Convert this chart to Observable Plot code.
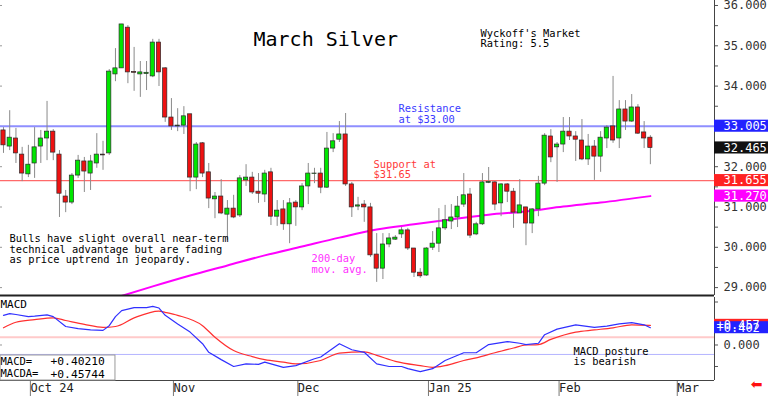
<!DOCTYPE html>
<html><head><meta charset="utf-8">
<script src="https://cdn.jsdelivr.net/npm/d3@7"></script>
<script src="https://cdn.jsdelivr.net/npm/@observablehq/plot@0.6"></script>
<style>
html,body{margin:0;padding:0;background:#fff;}
#chart{position:relative;width:768px;height:396px;overflow:hidden;background:#fff;}
#chart svg{display:block;}
</style></head><body><div id="chart"></div>
<script>
// ---- Daily OHLC (trading-day index 0..104) ----
const openP = [32.90,32.50,32.70,32.30,31.81,32.08,32.50,32.70,32.87,32.30,
31.26,31.11,31.78,32.13,31.83,32.08,32.30,32.33,34.29,34.44,
35.45,34.35,34.29,34.30,34.24,35.08,34.44,33.22,33.00,33.02,
33.30,31.73,32.58,31.86,31.19,31.26,30.81,30.96,30.79,31.66,
31.73,31.38,31.31,31.86,30.76,30.94,30.57,31.11,30.99,31.51,
31.82,31.83,31.48,32.45,32.67,32.80,31.56,31.01,31.06,30.99,
29.82,29.47,30.07,30.19,30.32,30.42,29.97,29.37,29.30,29.99,
30.09,30.47,30.64,30.74,31.06,31.31,30.32,30.57,31.60,31.61,
31.09,31.56,31.38,30.84,30.99,30.59,30.94,31.58,32.75,32.48,
32.55,32.87,32.75,32.65,32.18,32.50,32.25,32.70,33.00,32.70,
33.42,33.12,33.47,32.85,32.72];
const highP = [32.97,33.39,32.95,32.48,32.53,32.97,32.90,33.62,32.92,32.40,
31.41,31.83,32.28,32.23,32.28,32.82,32.63,34.41,34.93,35.53,
35.50,34.96,34.61,34.61,35.16,35.16,34.46,33.69,33.44,33.49,
33.30,32.60,32.60,32.08,31.36,31.68,31.16,31.29,31.78,32.05,
31.86,31.83,31.91,31.96,31.16,31.16,31.21,31.16,31.58,32.08,
31.96,31.96,32.85,32.82,33.12,33.32,31.61,31.24,31.16,31.09,
30.34,30.34,30.34,30.29,30.49,30.47,29.97,29.47,29.99,30.39,
30.96,31.04,31.06,31.26,31.83,31.46,30.62,31.83,31.98,31.63,
31.58,31.58,31.46,31.68,30.99,30.96,31.76,32.82,32.92,32.60,
33.22,33.22,32.87,33.17,32.80,32.65,32.87,33.02,34.24,33.64,
33.64,33.79,33.54,33.12,32.77];
const lowP = [32.33,32.40,32.08,31.63,31.73,31.71,32.08,32.15,32.15,30.74,
30.86,31.06,31.71,31.36,31.41,31.96,31.91,32.28,34.11,34.44,
34.06,33.87,33.72,33.89,34.21,33.99,33.10,32.90,32.87,32.80,
31.38,31.43,31.73,30.96,30.71,30.81,30.17,30.71,30.74,31.51,
31.31,31.09,31.11,30.54,30.52,30.42,30.09,30.52,30.91,31.06,
31.58,31.33,31.46,32.35,32.60,31.51,30.74,30.91,30.62,29.75,
29.13,29.20,29.99,30.17,30.22,29.92,29.25,29.23,29.28,29.92,
29.87,30.42,30.44,30.49,30.99,30.22,30.29,30.54,31.58,30.91,
30.76,31.11,30.47,30.84,30.04,30.34,30.76,31.53,32.10,31.61,
32.35,32.65,32.13,32.15,32.03,31.66,31.86,32.45,32.58,32.45,
32.90,33.10,32.80,32.45,32.05];
const closeP = [32.53,32.72,32.33,31.83,32.05,32.48,32.70,32.87,32.35,31.33,
31.11,31.78,32.15,31.88,32.13,32.30,32.28,34.36,34.44,35.53,
34.34,34.33,34.34,34.33,35.08,34.34,33.22,33.00,33.02,33.25,
31.73,32.55,31.83,31.21,31.26,30.84,30.96,30.74,31.71,31.73,
31.36,31.33,31.83,30.76,30.91,30.57,31.09,30.99,31.51,31.83,
31.83,31.48,32.45,32.63,32.80,31.56,30.99,31.04,30.99,29.80,
29.47,30.07,30.22,30.24,30.42,29.97,29.37,29.28,29.97,30.09,
30.47,30.67,30.74,31.01,31.29,30.29,30.57,31.61,31.62,31.06,
31.56,31.38,30.86,31.04,30.59,30.94,31.58,32.77,32.23,32.55,
32.87,32.75,32.67,32.18,32.50,32.25,32.72,32.97,32.65,33.42,
33.12,33.47,32.82,32.70,32.465];

// ---- 200-day moving average (read at selected days) ----
const maIdx  = [17,24,30,36,42,48,54,60,66,72,78,84,90,96,104];
const maVals = [28.70,29.03,29.30,29.55,29.80,30.02,30.24,30.44,30.57,30.69,30.81,30.89,31.01,31.11,31.27];

// ---- MACD (blue) and MACDA signal (red) ----
const macdIdx  = [0,1,2,4,5,7,8,10,12,14,16,17,18,19,21,23,24,25,26,28,30,32,33,35,37,39,41,42,45,47,50,51,54,56,58,60,62,64,65,67,69,71,74,76,78,81,83,84,86,87,89,92,95,97,99,101,103,104];
const macdVals = [0.69,0.73,0.71,0.66,0.67,0.70,0.66,0.43,0.38,0.35,0.34,0.45,0.66,0.80,0.87,0.87,0.90,0.86,0.69,0.49,0.30,0.03,-0.17,-0.34,-0.50,-0.44,-0.45,-0.40,-0.52,-0.48,-0.32,-0.28,0.03,-0.11,-0.17,-0.44,-0.50,-0.50,-0.55,-0.62,-0.55,-0.36,-0.18,-0.18,0.01,0.08,0.04,0.01,0.04,0.24,0.37,0.47,0.41,0.44,0.49,0.52,0.47,0.402];
const sigIdx  = [0,2,5,8,10,13,16,18,21,25,26,28,32,34,37,40,42,45,47,51,54,58,60,63,67,69,71,74,76,79,82,84,86,88,92,95,98,101,104];
const sigVals = [0.40,0.53,0.59,0.63,0.57,0.48,0.41,0.43,0.63,0.79,0.76,0.69,0.45,0.18,-0.13,-0.27,-0.34,-0.40,-0.44,-0.36,-0.19,-0.16,-0.24,-0.38,-0.48,-0.52,-0.48,-0.36,-0.30,-0.18,-0.07,0.00,0.01,0.13,0.30,0.35,0.40,0.47,0.457];

// ---- Axis ticks / labels ----
const dateTickIdx = [4,27,47,68,89,108];
const dateTickLabels = ["Oct 24","Nov","Dec","Jan 25","Feb","Mar"];
const priceTicks = [29,30,31,32,33,34,35,36];
const macdTicks = [0];

// ---- Levels & last values ----
const resistance = 33.005, support = 31.655, lastClose = 32.465, lastMA = 31.270;
const macdLast = 0.40210, macdaLast = 0.45744;
const macdBandHi = 0.18, macdBandLo = -0.22;

// ---- build ----
const candles = d3.range(openP.length).map(i => ({i, o: openP[i], h: highP[i], l: lowP[i], c: closeP[i]}));
const ma = maIdx.map((x, k) => ({x, y: maVals[k]}));
const macd = macdIdx.map((x, k) => ({x, y: macdVals[k]}));
const sig = sigIdx.map((x, k) => ({x, y: sigVals[k]}));

const MONO = "DejaVu Sans Mono";
const xDom = [-0.482, 114.31];
const xEdge = 122.99;          // right edge of page in x units
const pDom = [28.804, 36.124];
const mDom = [-0.826, 1.105];

const markers = [
  {v: resistance, label: resistance.toFixed(3), fill: "#2222ff"},
  {v: lastClose, label: lastClose.toFixed(3), fill: "#111111"},
  {v: support, label: support.toFixed(3), fill: "#ff2222"},
  {v: lastMA, label: lastMA.toFixed(3), fill: "#ff00ff"}
];

const note = (txt, dx, dy, opts = {}) => Plot.text([txt], Object.assign({
  frameAnchor: "top-left", dx, dy, textAnchor: "start", lineAnchor: "middle",
  fontSize: 10.4, fontFamily: MONO, fill: "#000", lineHeight: 1.0
}, opts));

const price = Plot.plot({
  width: 768, height: 297, marginLeft: 0, marginRight: 54, marginTop: 0, marginBottom: 2,
  style: {fontFamily: MONO, background: "white"},
  x: {domain: xDom, axis: null},
  y: {domain: pDom, label: null},
  color: {type: "identity"},
  marks: [
    Plot.axisY(d3.range(29, 36.01, 0.5), {anchor: "right", tickSize: 3, tickFormat: () => "", stroke: "#555", label: null}),
    Plot.axisY(priceTicks, {anchor: "left", tickSize: -2, tickFormat: () => "", stroke: "#999", label: null}),
    Plot.axisY(priceTicks, {anchor: "right", tickSize: 0, tickPadding: 9, tickFormat: d3.format(".3f"), fontSize: 12, fill: "#333", label: null}),
    Plot.ruleY([resistance], {stroke: "#8f8fff", strokeWidth: 2}),
    Plot.ruleY([support], {stroke: "#ff6a6a", strokeWidth: 1.3}),
    Plot.line(ma, {x: "x", y: "y", stroke: "#ff00ff", strokeWidth: 2, curve: "monotone-x", clip: true}),
    Plot.ruleX(candles, {x: "i", y1: "l", y2: "h", stroke: "#8a8a8a", strokeWidth: 1}),
    Plot.rect(candles, {x1: d => d.i - 0.34, x2: d => d.i + 0.34, y1: "o", y2: "c",
      fill: d => d.c >= d.o ? "#00e600" : "#ee1111", stroke: "#2a2a2a", strokeWidth: 0.7}),
    Plot.ruleY([pDom[0]], {stroke: "#222", strokeWidth: 2}),
    Plot.ruleX([xDom[1]], {stroke: "#444", strokeWidth: 1}),
    Plot.rect(markers, {x1: xDom[1], x2: xEdge, y1: d => d.v - 0.15, y2: d => d.v + 0.15, fill: "fill"}),
    Plot.text(markers, {x: xDom[1], y: "v", text: "label", dx: 9, textAnchor: "start", fill: "white", fontSize: 12, fontFamily: MONO}),
    note("March Silver", 253, 39, {fontSize: 20}),
    note("Wyckoff's Market\nRating: 5.5", 480, 38),
    note("Resistance\nat $33.00", 398, 113.5, {fill: "#3a3aff"}),
    note("Support at\n$31.65", 373, 169, {fill: "#ff3a3a"}),
    note("200-day\nmov. avg.", 311, 263, {fill: "#ff30ff", lineHeight: 1.06}),
    note("Bulls have slight overall near-term\ntechnical advantage but are fading\nas price uptrend in jeopardy.", 9, 248.7)
  ]
});

const macdBox = [{v: macdaLast, label: "+" + macdaLast.toFixed(3), fill: "#ff2222"},
                 {v: macdLast, label: "+" + macdLast.toFixed(3), fill: "#2222ff"}];

const macdPlot = Plot.plot({
  width: 768, height: 99, marginLeft: 0, marginRight: 54, marginTop: 0, marginBottom: 16,
  style: {fontFamily: MONO, background: "white"},
  x: {domain: xDom, label: null},
  y: {domain: mDom, label: null},
  color: {type: "identity"},
  marks: [
    Plot.ruleY([macdBandHi], {stroke: "#ffcaca", strokeWidth: 2}),
    Plot.ruleY([macdBandLo], {stroke: "#b4b4ff", strokeWidth: 1}),
    Plot.axisY([-0.5, 0, 0.5, 1], {anchor: "right", tickSize: 3, tickFormat: () => "", stroke: "#555", label: null}),
    Plot.axisY(macdTicks, {anchor: "left", tickSize: -2, tickFormat: () => "", stroke: "#999", label: null}),
    Plot.axisY(macdTicks, {anchor: "right", tickSize: 0, tickPadding: 9, tickFormat: d3.format(".3f"), fontSize: 12, fill: "#333", label: null}),
    Plot.axisX(dateTickIdx, {anchor: "bottom", tickSize: 16, tickPadding: -13, textAnchor: "start", dx: 2, label: null,
      tickFormat: d => dateTickLabels[dateTickIdx.indexOf(d)], fontSize: 12, stroke: "#777", fill: "#222"}),
    Plot.line(sig, {x: "x", y: "y", stroke: "#ff3030", strokeWidth: 1.2, curve: "monotone-x"}),
    Plot.line(macd, {x: "x", y: "y", stroke: "#3030ff", strokeWidth: 1.2}),
    Plot.ruleX([xDom[1]], {stroke: "#444", strokeWidth: 1}),
    Plot.ruleY([mDom[0]], {stroke: "#444", strokeWidth: 1}),
    Plot.rect(macdBox, {x1: xDom[1], x2: xEdge, y1: d => d.v - 0.14, y2: d => d.v + 0.14, fill: "fill"}),
    Plot.text(macdBox, {x: xDom[1], y: "v", text: "label", dx: 2, textAnchor: "start", fill: "white", fontSize: 12, fontFamily: MONO}),
    Plot.rect([0], {x1: xDom[0], x2: 18.0, y1: mDom[0], y2: -0.244, fill: "white", stroke: "#999"}),
    note("MACD", 0, 6.5, {fontSize: 11}),
    note("MACD=", 0, 64, {fontSize: 10.5}),
    note("MACDA=", 0, 76.5, {fontSize: 10.5}),
    note("+" + macdLast.toFixed(5), 50, 64, {fontSize: 11.3}),
    note("+" + macdaLast.toFixed(5), 50, 76.5, {fontSize: 11.3}),
    note("MACD posture\nis bearish", 573, 59),
    Plot.text(["\u2B05"], {frameAnchor: "bottom-right", dx: 48, dy: 8, fill: "#ff1010", fontSize: 14, fontFamily: "DejaVu Sans"})
  ]
});

const root = document.getElementById("chart");
root.appendChild(price);
root.appendChild(macdPlot);
</script>
</body></html>
